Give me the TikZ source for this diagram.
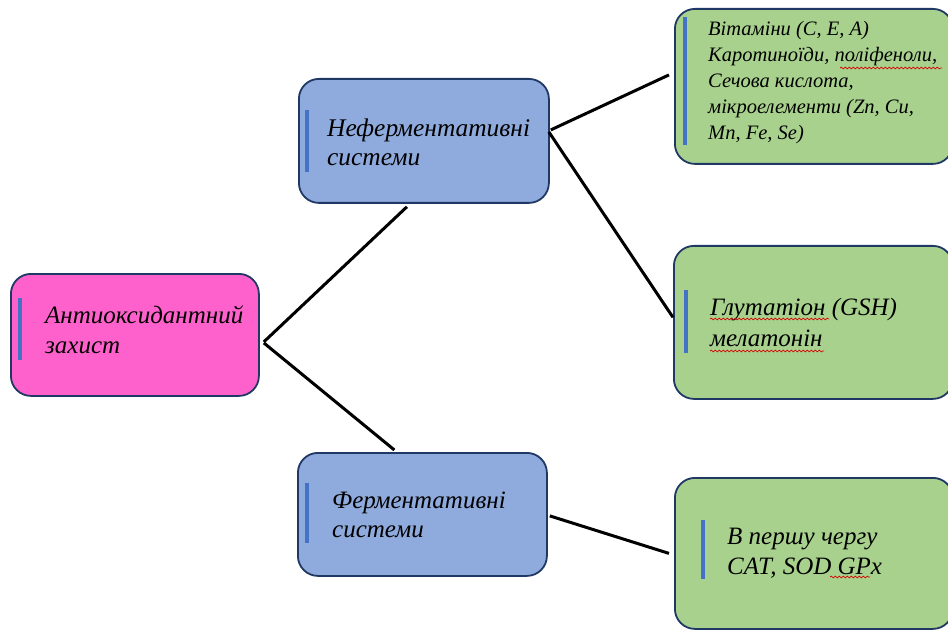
\documentclass[tikz,border=0pt]{standalone}
\usepackage{fontspec}
\usepackage{graphicx}
\setmainfont{Liberation Serif}
\usetikzlibrary{decorations.pathmorphing}
\definecolor{pinkc}{RGB}{255,97,204}
\definecolor{bluec}{RGB}{143,170,220}
\definecolor{greenc}{RGB}{169,209,142}
\definecolor{edgec}{RGB}{31,56,100}
\definecolor{barc}{RGB}{68,114,196}
% #1 = scale factor, #2 = leading at 20pt, #3 = lines
\newcommand{\boxtext}[3]{\scalebox{#1}{\fontsize{20}{#2}\selectfont\itshape\begin{tabular}[t]{@{}l@{}}#3\end{tabular}}}
\tikzset{
  box/.style={draw=edgec, line width=1.8pt, rounded corners=20pt, anchor=north west, inner sep=0pt},
  link/.style={line width=3pt, black},
  bar/.style={line width=3.2pt, barc},
  txt/.style={anchor=base west, inner sep=0pt, text=black},
  squiggle/.style={red!85!black, line width=0.7pt, decorate, decoration={snake, amplitude=0.9pt, segment length=4pt}}
}
\begin{document}
\begin{tikzpicture}[x=1pt,y=-1pt]
\useasboundingbox (0,0) rectangle (948,631);
\clip (0,0) rectangle (948,631);
% boxes
\node[box, fill=pinkc, minimum width=248pt, minimum height=122pt] (root) at (10,273) {};
\node[box, fill=bluec, minimum width=250pt, minimum height=124pt] (nef) at (298,78) {};
\node[box, fill=bluec, minimum width=249pt, minimum height=123pt] (ferm) at (297,452) {};
\node[box, fill=greenc, minimum width=278pt, minimum height=155pt] (g1) at (674,8) {};
\node[box, fill=greenc, minimum width=279pt, minimum height=153pt] (g2) at (673,245) {};
\node[box, fill=greenc, minimum width=278pt, minimum height=151pt] (g3) at (674,477) {};
% bars
\draw[bar] (20,298) -- (20,360);
\draw[bar] (307,110) -- (307,172);
\draw[bar] (307,483) -- (307,543);
\draw[bar] (685,17) -- (685,145);
\draw[bar] (686,290) -- (686,353);
\draw[bar] (703,520) -- (703,579);
% texts
\node[txt] (t0) at (45,323) {\boxtext{1.25}{24.8}{Антиоксидантний\\захист}};
\node[txt] (t1) at (327,137) {\boxtext{1.27}{22.8}{Нефермента­тивні\\системи}};
\node[txt] (t2) at (332,508) {\boxtext{1.25}{23.2}{Ферментативні\\системи}};
\node[txt] (t3) at (708,36) {\boxtext{1.025}{25.2}{Вітаміни (C, E, A)\\Каротиноїди, поліфеноли,\\Сечова кислота,\\мікроелементи (Zn, Cu,\\Mn, Fe, Se)}};
\node[txt] (t4) at (710,315) {\boxtext{1.25}{25.6}{Глутатіон (GSH)\\мелатонін}};
\node[txt] (t5) at (727,544) {\boxtext{1.25}{24}{В першу чергу\\CAT, SOD GPx}};
% spell-check underlines
\draw[squiggle] (840,68) -- (942,68);
\draw[squiggle] (710,319) -- (829,319);
\draw[squiggle] (710,351) -- (824,351);
\draw[squiggle] (830,577) -- (870,577);
% connectors
\draw[link] ([shift={(4,7)}]root.east) -- ([shift={(-17,3)}]nef.south);
\draw[link] ([shift={(4,8)}]root.east) -- ([shift={(-28,-2)}]ferm.north);
\draw[link] ([shift={(1,-11)}]nef.east) -- ([shift={(-5,-11.5)}]g1.west);
\draw[link] ([shift={(-1,-9)}]nef.east) -- ([shift={(0,-5)}]g2.west);
\draw[link] ([shift={(2,1.5)}]ferm.east) -- ([shift={(-5,0)}]g3.west);
\end{tikzpicture}
\end{document}
